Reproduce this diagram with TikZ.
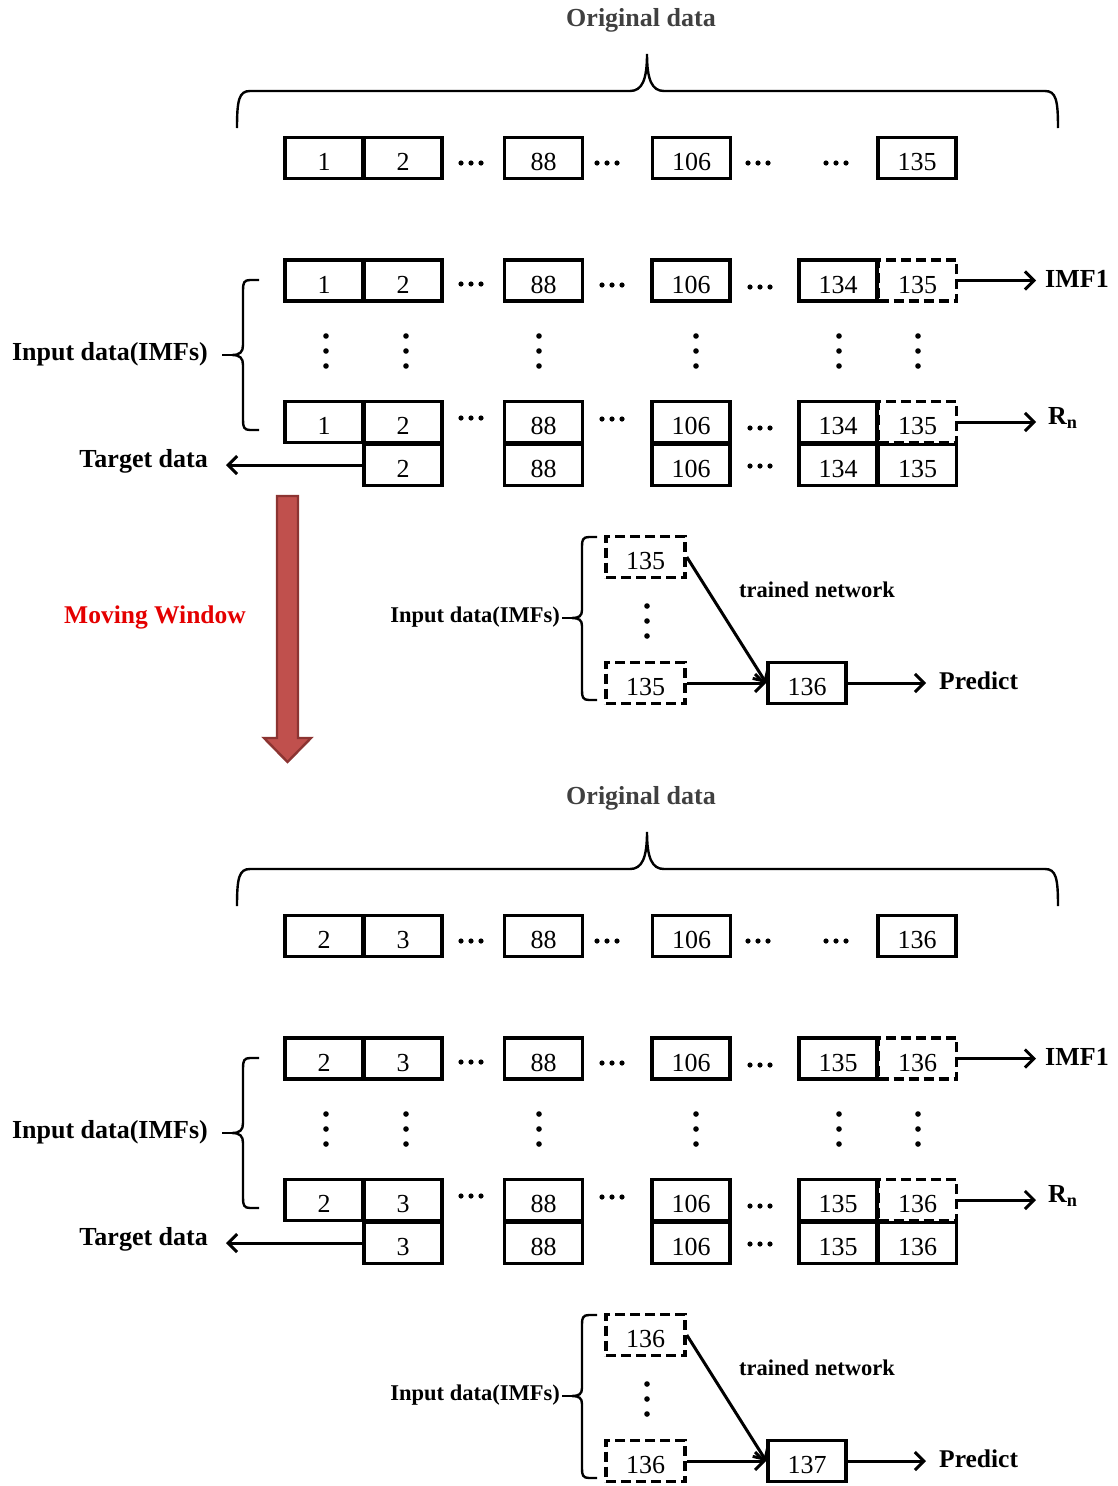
\documentclass[tikz,border=0pt]{standalone}
\usepackage{fontspec}
\setmainfont{Liberation Serif}
\usetikzlibrary{arrows.meta}
\definecolor{arrowfill}{RGB}{192,80,77}
\definecolor{arrowedge}{RGB}{140,52,50}
\definecolor{mwred}{RGB}{228,0,0}
\definecolor{origgray}{RGB}{64,64,64}
\tikzset{
  cell/.style={draw, line width=3.6pt, minimum width=78pt, minimum height=41pt, inner sep=0pt,
               font=\fontsize{26}{30}\selectfont, text height=25pt, text depth=0pt},
  dcell/.style={cell, fill=white, dash pattern=on 10pt off 5pt},
  lbl/.style={font=\bfseries\fontsize{26}{30}\selectfont, inner sep=0pt},
  slbl/.style={font=\bfseries\fontsize{22.5}{26}\selectfont, inner sep=0pt},
  conn/.style={line width=3pt, -{Straight Barb[length=9pt,width=18pt]}},
  brc/.style={line width=2.4pt},
  hd/.pic={\fill (-10,0) circle (2.6pt) (0,0) circle (2.6pt) (10,0) circle (2.6pt);},
  vd/.pic={\fill (0,-15) circle (2.8pt) (0,0) circle (2.8pt) (0,15) circle (2.8pt);},
}
\begin{document}
\begin{tikzpicture}[x=1pt, y=-1pt]
\useasboundingbox (0,0) rectangle (1118,1486);

% moving window arrow and label
\draw[line width=2.4pt, draw=arrowedge, fill=arrowfill, line join=miter]
  (277,496) -- (298,496) -- (298,738) -- (311,738) -- (287.5,762) -- (264,738) -- (277,738) -- cycle;
\node[font=\bfseries\fontsize{25.5}{30}\selectfont, text=mwred, inner sep=0pt] (mw) at (155,617) {Moving Window};

\foreach \s/\off/\a/\b/\c/\d/\p in {A/0/1/2/134/135/136, B/778/2/3/135/136/137}{
\begin{scope}[shift={(0,\off)}]
  % title and brace
  \node[lbl, text=origgray] (\s-title) at (641,20) {Original data};
  \draw[brc] (237,128) .. controls (237,100) and (239,91) .. (250,91) -- (630,91)
     .. controls (642,91) and (647,80) .. (647,54)
     .. controls (647,80) and (652,91) .. (664,91) -- (1045,91)
     .. controls (1056,91) and (1058,100) .. (1058,128);
  % original data row
  \node[cell] (\s-o1) at (324,158) {\a};
  \node[cell] (\s-o2) at (403,158) {\b};
  \node[cell] (\s-o3) at (543.5,158) {88};
  \node[cell] (\s-o4) at (691.5,158) {106};
  \node[cell] (\s-o5) at (917,158) {\d};
  \pic at (471,163) {hd};
  \pic at (607,163) {hd};
  \pic at (758,163) {hd};
  \pic at (836,163) {hd};
  % IMF1 row
  \node[cell] (\s-i1) at (324,280.5) {\a};
  \node[cell] (\s-i2) at (403,280.5) {\b};
  \node[cell] (\s-i3) at (543.5,280.5) {88};
  \node[cell] (\s-i4) at (691,280.5) {106};
  \node[cell] (\s-i5) at (838,280.5) {\c};
  \pic at (471,284) {hd};
  \pic at (612,285) {hd};
  \pic at (760,287) {hd};
  % vertical dots
  \foreach \vx in {326,406,539,696,839,918} { \pic at (\vx,351) {vd}; }
  % Rn row
  \node[cell] (\s-r1) at (324,422) {\a};
  \node[cell] (\s-r2) at (403,422) {\b};
  \node[cell] (\s-r3) at (543.5,422) {88};
  \node[cell] (\s-r4) at (691,422) {106};
  \node[cell] (\s-r5) at (838,422) {\c};
  \pic at (471,418) {hd};
  \pic at (612,419) {hd};
  \pic at (760,428) {hd};
  % target row
  \node[cell] (\s-t2) at (403,465) {\b};
  \node[cell] (\s-t3) at (543.5,465) {88};
  \node[cell] (\s-t4) at (691,465) {106};
  \node[cell] (\s-t5) at (838,465) {\c};
  \node[cell] (\s-t6) at (917.5,465) {\d};
  \pic at (760,466) {hd};
  % dashed cells
  \node[dcell] (\s-i6) at (917.5,280.5) {\d};
  \node[dcell] (\s-r6) at (917.5,422) {\d};
  % labels and arrows
  \node[lbl, anchor=west, inner xsep=9pt] (\s-imf) at (1036,279) {IMF1};
  \draw[conn] (\s-i6.east) -- (\s-imf.west |- \s-i6.east);
  \node[lbl, anchor=west, inner xsep=12pt] (\s-rn) at (1036,418) {R\textsubscript{n}};
  \draw[conn] (\s-r6.east) -- (\s-rn.west |- \s-r6.east);
  \node[lbl, anchor=east, inner xsep=18pt] (\s-tgt) at (226,461) {Target data};
  \draw[conn] (\s-t2.west) -- (\s-tgt.east |- \s-t2.west);
  \node[lbl, anchor=east] (\s-inp) at (208,354) {Input data(IMFs)};
  \draw[brc] (259,280) -- (250,280) .. controls (244,280) and (243,283) .. (243,290) -- (243,345)
     .. controls (243,352) and (240,355) .. (232,355)
     .. controls (240,355) and (243,358) .. (243,365) -- (243,420)
     .. controls (243,427) and (244,430) .. (250,430) -- (259,430);
  \draw[brc] (222,355) -- (232,355);
  % prediction part
  \node[dcell, minimum width=79pt] (\s-p0) at (645.5,557) {\d};
  \node[dcell, minimum width=79pt] (\s-p1) at (645.5,683) {\d};
  \pic at (647,621) {vd};
  \node[cell] (\s-q) at (807,683) {\p};
  \node[slbl, anchor=east] (\s-inp2) at (560,617) {Input data(IMFs)};
  \draw[brc] (597,537) -- (589,537) .. controls (583,537) and (582,540) .. (582,546) -- (582,610)
     .. controls (582,616) and (579,618) .. (572,618)
     .. controls (579,618) and (582,620) .. (582,626) -- (582,691)
     .. controls (582,697) and (583,700) .. (589,700) -- (597,700);
  \draw[brc] (562,618) -- (572,618);
  \node[slbl, anchor=west] (\s-tn) at (739,590) {trained network};
  \draw[conn] (\s-p0.east) -- (\s-q.west);
  \draw[conn] (\s-p1.east) -- (\s-q.west);
  \node[lbl, font=\bfseries\fontsize{25.5}{30}\selectfont, anchor=west, inner xsep=13pt] (\s-pred) at (926,681) {Predict};
  \draw[conn] (\s-q.east) -- (\s-pred.west |- \s-q.east);
\end{scope}
}
\end{tikzpicture}
\end{document}
